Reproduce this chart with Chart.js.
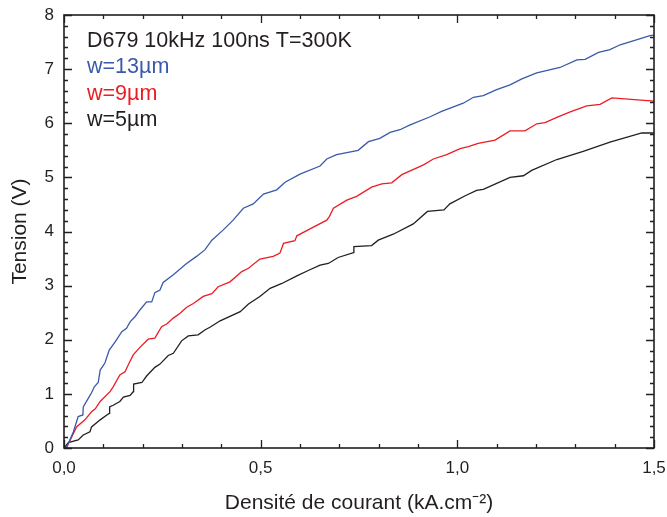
<!DOCTYPE html>
<html>
<head>
<meta charset="utf-8">
<script src="https://cdn.jsdelivr.net/npm/chart.js@4.4.1/dist/chart.umd.min.js"></script>
<style>
  html, body { margin: 0; padding: 0; background: #fff; }
  .chart-container { position: relative; width: 667px; height: 517px; }
</style>
</head>
<body>
<div class="chart-container"><canvas id="chart"></canvas></div>
<script>
// Current density (kA.cm-2) and voltage (V), per stripe width
const j13 = [0, 0.007, 0.024, 0.036, 0.048, 0.049, 0.062, 0.070, 0.077, 0.087, 0.092, 0.104, 0.115, 0.130, 0.147, 0.159, 0.168, 0.181, 0.193, 0.210, 0.223, 0.231, 0.244, 0.252, 0.278, 0.310, 0.337, 0.358, 0.376, 0.405, 0.430, 0.456, 0.481, 0.507, 0.541, 0.562, 0.600, 0.651, 0.668, 0.693, 0.748, 0.774, 0.803, 0.829, 0.854, 0.880, 0.931, 0.960, 1.015, 1.041, 1.066, 1.100, 1.134, 1.164, 1.202, 1.261, 1.304, 1.325, 1.359, 1.388, 1.414, 1.490, 1.500];
const v13 = [0, 0.02, 0.30, 0.58, 0.61, 0.76, 0.92, 1.02, 1.13, 1.21, 1.44, 1.57, 1.81, 1.96, 2.15, 2.21, 2.33, 2.43, 2.55, 2.70, 2.70, 2.87, 2.92, 3.06, 3.20, 3.40, 3.54, 3.66, 3.84, 4.03, 4.21, 4.43, 4.51, 4.69, 4.77, 4.91, 5.06, 5.21, 5.34, 5.42, 5.50, 5.66, 5.72, 5.83, 5.88, 5.97, 6.12, 6.22, 6.37, 6.48, 6.51, 6.62, 6.71, 6.82, 6.93, 7.03, 7.17, 7.18, 7.31, 7.36, 7.45, 7.62, 7.63];

const j9 = [0, 0.007, 0.020, 0.032, 0.053, 0.070, 0.079, 0.092, 0.117, 0.125, 0.142, 0.155, 0.163, 0.176, 0.193, 0.214, 0.231, 0.248, 0.261, 0.278, 0.295, 0.312, 0.329, 0.354, 0.376, 0.392, 0.422, 0.452, 0.469, 0.498, 0.532, 0.549, 0.558, 0.587, 0.592, 0.634, 0.668, 0.675, 0.685, 0.719, 0.744, 0.782, 0.808, 0.833, 0.859, 0.914, 0.939, 0.973, 1.007, 1.028, 1.053, 1.096, 1.134, 1.172, 1.202, 1.223, 1.253, 1.287, 1.329, 1.363, 1.393, 1.500];
const v9 = [0, 0.02, 0.21, 0.39, 0.52, 0.67, 0.72, 0.86, 1.04, 1.13, 1.35, 1.41, 1.53, 1.72, 1.86, 2.01, 2.03, 2.24, 2.29, 2.40, 2.49, 2.60, 2.67, 2.80, 2.85, 2.98, 3.07, 3.26, 3.32, 3.49, 3.54, 3.60, 3.78, 3.83, 3.92, 4.08, 4.21, 4.28, 4.43, 4.58, 4.65, 4.82, 4.88, 4.90, 5.05, 5.23, 5.34, 5.42, 5.53, 5.57, 5.63, 5.69, 5.86, 5.86, 5.99, 6.01, 6.11, 6.21, 6.32, 6.35, 6.47, 6.41];

const j5 = [0, 0.011, 0.036, 0.049, 0.066, 0.070, 0.092, 0.109, 0.115, 0.116, 0.125, 0.142, 0.151, 0.168, 0.176, 0.177, 0.198, 0.210, 0.231, 0.244, 0.265, 0.278, 0.299, 0.316, 0.341, 0.358, 0.371, 0.397, 0.448, 0.469, 0.498, 0.524, 0.554, 0.592, 0.621, 0.651, 0.672, 0.697, 0.736, 0.737, 0.782, 0.799, 0.837, 0.888, 0.924, 0.966, 0.981, 1.020, 1.049, 1.066, 1.134, 1.168, 1.189, 1.253, 1.320, 1.388, 1.469, 1.500];
const v5 = [0, 0.10, 0.15, 0.24, 0.30, 0.39, 0.52, 0.61, 0.64, 0.76, 0.79, 0.86, 0.94, 0.97, 1.04, 1.18, 1.21, 1.33, 1.49, 1.55, 1.71, 1.75, 1.98, 2.07, 2.09, 2.18, 2.23, 2.35, 2.52, 2.66, 2.80, 2.95, 3.04, 3.18, 3.28, 3.38, 3.41, 3.52, 3.61, 3.72, 3.74, 3.84, 3.95, 4.14, 4.37, 4.40, 4.51, 4.66, 4.76, 4.78, 5.00, 5.03, 5.13, 5.33, 5.48, 5.65, 5.82, 5.82];

const seriesLabels = ['w=13µm', 'w=9µm', 'w=5µm'];
const seriesColors = ['#3a59ab', '#ec1c24', '#231f20'];
const headerText = 'D679 10kHz 100ns T=300K';
const xTicks = [0, 0.5, 1.0, 1.5];
const yTicks = [0, 1, 2, 3, 4, 5, 6, 7, 8];

const FONT = "'Liberation Sans', Arial, sans-serif";
const INK = '#231f20';

const toPoints = (xs, ys) => xs.map((x, i) => ({ x: x, y: ys[i] }));

// keep the scale boxes at fixed sizes, no extra label padding
const fixBox = (s, size) => {
  if (s.isHorizontal()) s.height = size; else s.width = size;
  s.paddingLeft = s.paddingRight = s.paddingTop = s.paddingBottom = 0;
};

// Origin-style frame with inward major/minor ticks on all four sides
const frameTicks = {
  id: 'frameTicks',
  afterDraw(chart) {
    const { ctx, chartArea: a, scales: { x, y } } = chart;
    ctx.save();
    ctx.strokeStyle = INK;
    ctx.lineWidth = 1.6;
    ctx.strokeRect(a.left, a.top, a.right - a.left, a.bottom - a.top);
    ctx.lineWidth = 1.3;
    ctx.beginPath();
    for (let i = 0; i <= 15; i++) {
      const px = Math.round(x.getPixelForValue(i * 0.1)) + 0.5;
      const len = i % 5 === 0 ? 8 : 4;
      ctx.moveTo(px, a.bottom); ctx.lineTo(px, a.bottom - len);
      ctx.moveTo(px, a.top); ctx.lineTo(px, a.top + len);
    }
    for (let i = 0; i <= 40; i++) {
      const py = Math.round(y.getPixelForValue(i * 0.2)) + 0.5;
      const len = i % 5 === 0 ? 8 : 4;
      ctx.moveTo(a.left, py); ctx.lineTo(a.left + len, py);
      ctx.moveTo(a.right, py); ctx.lineTo(a.right - len, py);
    }
    ctx.stroke();
    ctx.restore();
  }
};

// Text legend in the upper-left corner of the plot
const textLegend = {
  id: 'textLegend',
  afterDraw(chart) {
    const { ctx, chartArea: a } = chart;
    ctx.save();
    ctx.font = '21.5px ' + FONT;
    ctx.textAlign = 'left';
    ctx.textBaseline = 'alphabetic';
    ctx.fillStyle = INK;
    ctx.fillText(headerText, a.left + 23, a.top + 32);
    chart.data.datasets.forEach((ds, i) => {
      ctx.fillStyle = ds.borderColor;
      ctx.fillText(ds.label, a.left + 23, a.top + 32 + (i + 1) * 26.4);
    });
    ctx.restore();
  }
};

const ctx = document.getElementById('chart').getContext('2d');
new Chart(ctx, {
  type: 'line',
  data: {
    datasets: [
      { label: seriesLabels[0], data: toPoints(j13, v13), borderColor: seriesColors[0] },
      { label: seriesLabels[1], data: toPoints(j9, v9), borderColor: seriesColors[1] },
      { label: seriesLabels[2], data: toPoints(j5, v5), borderColor: seriesColors[2] }
    ].map(d => Object.assign(d, { borderWidth: 1.3, pointRadius: 0, tension: 0, fill: false }))
  },
  options: {
    responsive: true,
    maintainAspectRatio: false,
    animation: false,
    layout: { autoPadding: false, padding: { left: 0, right: 13, top: 15, bottom: 0 } },
    plugins: {
      legend: { display: false },
      tooltip: { enabled: false }
    },
    scales: {
      x: {
        type: 'linear',
        min: 0,
        max: 1.5,
        afterBuildTicks: s => { s.ticks = xTicks.map(v => ({ value: v })); },
        afterFit: s => fixBox(s, 69),
        grid: { display: false, drawTicks: false },
        border: { display: false },
        ticks: {
          padding: 10,
          color: INK,
          font: { family: FONT, size: 17 },
          callback: v => v.toFixed(1).replace('.', ',')
        },
        title: {
          display: true,
          text: 'Densité de courant (kA.cm⁻²)',
          color: INK,
          font: { family: FONT, size: 21 },
          padding: { top: 0, bottom: 1 }
        }
      },
      y: {
        type: 'linear',
        min: 0,
        max: 8,
        afterBuildTicks: s => { s.ticks = yTicks.map(v => ({ value: v })); },
        afterFit: s => fixBox(s, 64),
        grid: { display: false, drawTicks: false },
        border: { display: false },
        ticks: {
          padding: 10,
          color: INK,
          font: { family: FONT, size: 17 }
        },
        title: {
          display: true,
          text: 'Tension (V)',
          color: INK,
          font: { family: FONT, size: 21 },
          padding: { top: 8, bottom: 0 }
        }
      }
    }
  },
  plugins: [frameTicks, textLegend]
});
</script>
</body>
</html>
